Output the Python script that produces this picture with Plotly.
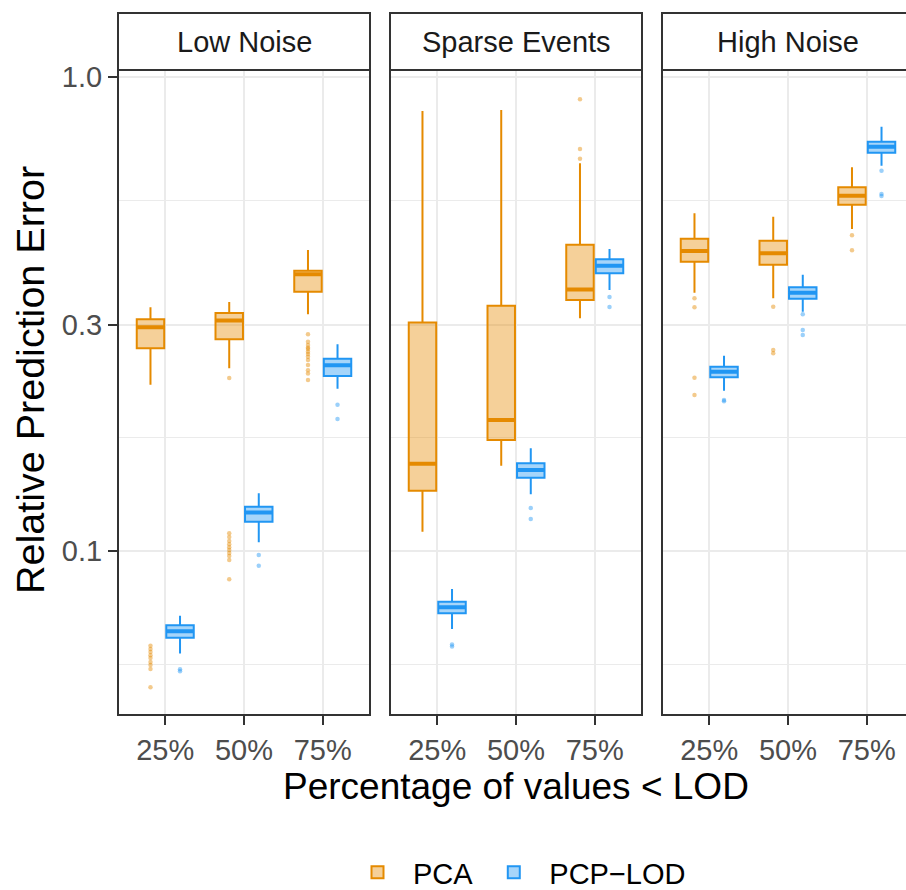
import math
import plotly.graph_objects as go

W, H = 906, 890

categories = ["25%", "50%", "75%"]
panels = ["Low Noise", "Sparse Events", "High Noise"]
methods = ["PCA", "PCP−LOD"]

# Each statistic: one row per panel (Low Noise, Sparse Events, High Noise),
# one value per category (25%, 50%, 75%).
pca_upper = [[0.3265, 0.3349, 0.4310], [0.8459, 0.8500, 0.6567], [0.5149, 0.5067, 0.6437]]
pca_q3 = [[0.3079, 0.3176, 0.3898], [0.3034, 0.3290, 0.4422], [0.4552, 0.4508, 0.5842]]
pca_median = [[0.2962, 0.3062, 0.3832], [0.1529, 0.1889, 0.3561], [0.4289, 0.4242, 0.5610]]
pca_q1 = [[0.2676, 0.2795, 0.3521], [0.1341, 0.1715, 0.3381], [0.4073, 0.4013, 0.5370]]
pca_lower = [[0.2243, 0.2428, 0.3155], [0.1099, 0.1514, 0.3094], [0.3504, 0.3410, 0.4772]]
pca_outliers = [
    [[0.0632, 0.0622, 0.0613, 0.0604, 0.0596, 0.0584, 0.0576, 0.0565, 0.0517],
     [0.2317, 0.1091, 0.1071, 0.1051, 0.1035, 0.1020, 0.1006, 0.0991, 0.0977, 0.0958, 0.0873],
     [0.2863, 0.2763, 0.2719, 0.2684, 0.2666, 0.2632, 0.2602, 0.2568, 0.2527, 0.2467, 0.2407, 0.2369, 0.2294]],
    [[None], [None], [0.8953, 0.7036, 0.6713]],
    [[0.3410, 0.3265, 0.2320, 0.2134], [0.3275, 0.2653, 0.2611], [0.4628, 0.4303]],
]

pcp_upper = [[0.0731, 0.1324, 0.2729], [0.0833, 0.1647, 0.4330], [0.2581, 0.3824, 0.7839]]
pcp_q3 = [[0.0698, 0.1241, 0.2544], [0.0783, 0.1532, 0.4120], [0.2447, 0.3597, 0.7290]]
pcp_median = [[0.0678, 0.1207, 0.2464], [0.0762, 0.1483, 0.3995], [0.2388, 0.3503, 0.7113]]
pcp_q1 = [[0.0657, 0.1153, 0.2339], [0.0740, 0.1428, 0.3850], [0.2324, 0.3402, 0.6911]]
pcp_lower = [[0.0609, 0.1044, 0.2200], [0.0686, 0.1318, 0.3549], [0.2178, 0.3195, 0.6487]]
pcp_outliers = [
    [[0.0564, 0.0559], [0.0982, 0.0932], [0.2035, 0.1899]],
    [[0.0636, 0.0630], [0.1233, 0.1169], [0.3431, 0.3268]],
    [[0.2082, 0.2070], [0.3155, 0.2924, 0.2853], [0.6332, 0.5655, 0.5600]],
]

y_tickvals = [0.1, 0.3, 1.0]
y_ticktext = ["0.1", "0.3", "1.0"]

# ---------------- styling ----------------
FONT = "Liberation Sans, Arial, Helvetica, sans-serif"
COLORS = {"PCA": (229, 138, 0), "PCP−LOD": (33, 150, 243)}
GRID = "#EBEBEB"
BORDER = "#333333"
TICKTXT = "#4D4D4D"


def rgba(c, a):
    return "rgba(%d,%d,%d,%.2f)" % (c[0], c[1], c[2], a)


def px_x(p):
    return p / W


def px_y(p):
    return 1 - p / H


panel_left = [118, 390, 662]
panel_w = 252
panel_top, panel_bottom = 70, 715
strip_top = 13
cat_px = panel_w / 3.2
x_lo = -0.6

# minor gridlines at midpoints (log space) of the major breaks, as ggplot does
lt = [math.log10(v) for v in y_tickvals]
minor_vals = [10 ** (lt[0] - (lt[1] - lt[0]) / 2)] + [10 ** ((a + b) / 2) for a, b in zip(lt[:-1], lt[1:])]

stats = {
    "PCA": (pca_q1, pca_median, pca_q3, pca_lower, pca_upper, pca_outliers),
    "PCP−LOD": (pcp_q1, pcp_median, pcp_q3, pcp_lower, pcp_upper, pcp_outliers),
}

fig = go.Figure()
for pi, panel in enumerate(panels):
    xa = "x" if pi == 0 else "x%d" % (pi + 1)
    ya = "y" if pi == 0 else "y%d" % (pi + 1)
    for m in methods:
        q1, med, q3, lo, up, outl = stats[m]
        c = COLORS[m]
        fig.add_trace(go.Box(
            x=categories, q1=q1[pi], median=med[pi], q3=q3[pi],
            lowerfence=lo[pi], upperfence=up[pi], y=outl[pi],
            orientation="v", name=m, legendgroup=m, showlegend=(pi == 0),
            offsetgroup=m, boxpoints="outliers", jitter=0, pointpos=0,
            marker=dict(color=rgba(c, 0.45), size=4.5, line=dict(width=0)),
            line=dict(color=rgba(c, 1), width=2), fillcolor=rgba(c, 0.4),
            whiskerwidth=0, xaxis=xa, yaxis=ya, hoverinfo="skip",
        ))
        # thicker median line (ggplot fatten)
        fig.add_trace(go.Box(
            x=categories, q1=med[pi], median=med[pi], q3=med[pi],
            lowerfence=med[pi], upperfence=med[pi],
            orientation="v", name=m, legendgroup=m, showlegend=False,
            offsetgroup=m, boxpoints=False,
            line=dict(color=rgba(c, 1), width=4), fillcolor="rgba(0,0,0,0)",
            whiskerwidth=0, xaxis=xa, yaxis=ya, hoverinfo="skip",
        ))

layout = dict(
    width=W, height=H, margin=dict(l=0, r=0, t=0, b=0, autoexpand=False),
    paper_bgcolor="white", plot_bgcolor="white",
    font=dict(family=FONT, color="black"),
    boxmode="group", boxgap=0.25, boxgroupgap=0.07,
    showlegend=True,
    legend=dict(orientation="h", x=px_x(342), xanchor="left", y=px_y(847), yanchor="top",
                font=dict(size=29, color="black", family=FONT), bgcolor="rgba(0,0,0,0)",
                itemwidth=61),
)

shapes = []
annotations = []
for pi, panel in enumerate(panels):
    sfx = "" if pi == 0 else str(pi + 1)
    left = panel_left[pi]
    vis_w = min(panel_w, W - left)
    layout["xaxis" + sfx] = dict(
        type="category", categoryorder="array", categoryarray=categories,
        domain=[px_x(left), px_x(left + vis_w)], anchor="y" + sfx,
        range=[x_lo, x_lo + vis_w / cat_px],
        showgrid=True, gridcolor=GRID, gridwidth=2, zeroline=False, showline=False,
        ticks="outside", ticklen=9, tickwidth=2, tickcolor=BORDER,
        tickfont=dict(size=29, color=TICKTXT, family=FONT), fixedrange=True,
    )
    ydict = dict(
        type="log", range=[-1.345, 0.0137],
        domain=[px_y(panel_bottom), px_y(panel_top)], anchor="x" + sfx,
        tickmode="array", tickvals=y_tickvals, ticktext=y_ticktext,
        showgrid=True, gridcolor=GRID, gridwidth=2, zeroline=False, showline=False,
        minor=dict(tickmode="array", tickvals=minor_vals, showgrid=True, gridcolor=GRID,
                   gridwidth=1, ticks=""),
        fixedrange=True,
    )
    if pi == 0:
        ydict.update(ticks="outside", ticklen=9, tickwidth=2, tickcolor=BORDER,
                     tickfont=dict(size=29, color=TICKTXT, family=FONT))
    else:
        ydict.update(matches="y", showticklabels=False, ticks="")
    layout["yaxis" + sfx] = ydict

    right = left + panel_w
    shapes.append(dict(type="rect", xref="paper", yref="paper",
                       x0=px_x(left), x1=px_x(right), y0=px_y(panel_bottom), y1=px_y(panel_top),
                       line=dict(color=BORDER, width=2), fillcolor="rgba(0,0,0,0)", layer="above"))
    shapes.append(dict(type="rect", xref="paper", yref="paper",
                       x0=px_x(left), x1=px_x(right), y0=px_y(panel_top), y1=px_y(strip_top),
                       line=dict(color=BORDER, width=2), fillcolor="white", layer="above"))
    annotations.append(dict(text=panel, xref="paper", yref="paper",
                            x=px_x(left + panel_w / 2), y=px_y((strip_top + panel_top) / 2),
                            xanchor="center", yanchor="middle", showarrow=False,
                            font=dict(size=29, color="#1A1A1A", family=FONT)))

annotations.append(dict(text="Relative Prediction Error", xref="paper", yref="paper",
                        x=px_x(30), y=px_y(380), textangle=-90,
                        xanchor="center", yanchor="middle", showarrow=False,
                        font=dict(size=39.5, color="black", family=FONT)))
annotations.append(dict(text="Percentage of values < LOD", xref="paper", yref="paper",
                        x=px_x((panel_left[0] + panel_left[2] + panel_w) / 2), y=px_y(786),
                        xanchor="center", yanchor="middle", showarrow=False,
                        font=dict(size=37, color="black", family=FONT)))

layout["shapes"] = shapes
layout["annotations"] = annotations
fig.update_layout(**layout)

fig.write_html("out.html", config={"displayModeBar": False},
               post_script="document.body.style.margin='0';document.body.style.overflow='hidden';")
